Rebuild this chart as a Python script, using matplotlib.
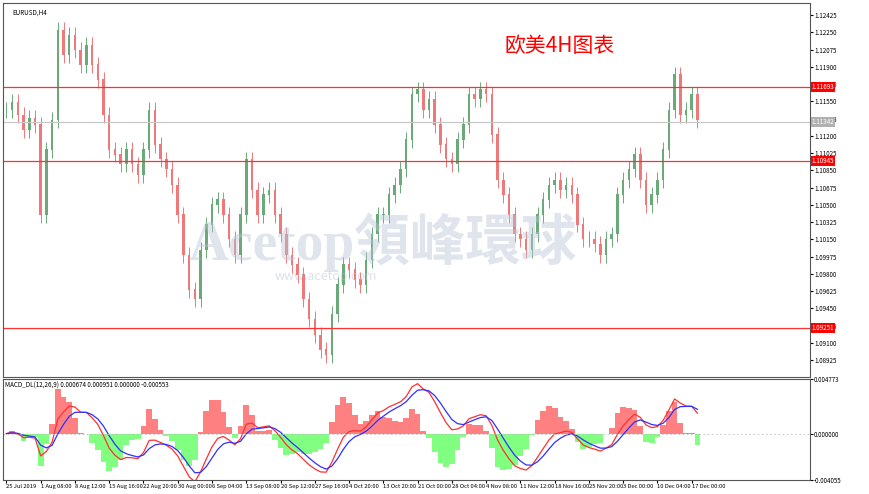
import numpy as np
import pandas as pd
import matplotlib
matplotlib.use("Agg")
import matplotlib.pyplot as plt

plt.rcParams['font.family'] = ['Noto Sans CJK SC', 'DejaVu Sans']

closes = [1.1146,1.1154,1.1141,1.1126,1.1138,1.1131,1.1040,1.1106,1.1136,1.1227,1.1202,1.1222,1.1207,1.1192,1.1212,1.1192,1.1177,1.1141,1.1106,1.1101,1.1091,1.1106,1.1091,1.1080,1.1106,1.1146,1.1111,1.1096,1.1086,1.1070,1.1040,1.0999,1.0964,1.0954,1.1004,1.1030,1.1050,1.1055,1.1040,1.1015,1.0999,1.1040,1.1096,1.1065,1.1040,1.1060,1.1065,1.1040,1.1020,1.0999,1.0989,1.0979,1.0954,1.0934,1.0918,1.0903,1.0898,1.0939,1.0969,1.0989,1.0984,1.0974,1.0969,1.0994,1.1020,1.1040,1.1040,1.1060,1.1070,1.1086,1.1116,1.1162,1.1167,1.1146,1.1157,1.1131,1.1111,1.1096,1.1091,1.1116,1.1131,1.1162,1.1157,1.1167,1.1162,1.1121,1.1075,1.1060,1.1040,1.1020,1.1015,1.1004,1.1020,1.1040,1.1055,1.1070,1.1075,1.1065,1.1070,1.1060,1.1030,1.1015,1.1015,1.1010,1.0999,1.1015,1.1020,1.1060,1.1075,1.1086,1.1101,1.1075,1.1050,1.1060,1.1075,1.1106,1.1146,1.1182,1.1141,1.1146,1.1162,1.1136]
bar_step = 5
hlines = [1.11693, 1.10945, 1.09251]
current = 1.11342
price_ticks = [1.12425,1.12250,1.12075,1.11900,1.11725,1.11550,1.11375,1.11200,1.11025,1.10850,1.10675,1.10500,1.10325,1.10150,1.09975,1.09800,1.09625,1.09450,1.09275,1.09100,1.08925]
date_labels = ["25 Jul 2019","1 Aug 08:00","8 Aug 12:00","15 Aug 16:00","22 Aug 20:00","30 Aug 00:00","6 Sep 04:00","13 Sep 08:00","20 Sep 12:00","27 Sep 16:00","4 Oct 20:00","13 Oct 20:00","21 Oct 00:00","28 Oct 04:00","4 Nov 08:00","11 Nov 12:00","18 Nov 16:00","25 Nov 20:00","3 Dec 00:00","10 Dec 04:00","17 Dec 00:00"]

W, H = 870, 494
fig = plt.figure(figsize=(8.7, 4.94), dpi=100)
def rect(l, t, r, b):
    return [l / W, 1 - b / H, (r - l) / W, (b - t) / H]
ax = fig.add_axes(rect(3, 3, 810, 377))
ax2 = fig.add_axes(rect(3, 379, 810, 480))

c = np.array(closes)
o = np.concatenate([[c[0]], c[:-1]])
x = np.arange(len(c)) * bar_step
hi = np.maximum(o, c) + 0.0008
lo = np.minimum(o, c) - 0.0008
up = c >= o
green, red = '#6aaa78', '#f07878'
for xi, oi, ci, h, l, u in zip(x, o, c, hi, lo, up):
    col = green if u else red
    ax.vlines(xi, l, h, color=col, lw=0.7)
    ax.bar(xi, abs(ci - oi) + 0.00005, bottom=min(oi, ci), width=2.2, color=col, lw=0)

for hv in hlines:
    ax.axhline(hv, color='#ff3030', lw=0.9)
    ax.text(1.002, hv, f"{hv:.5f}", transform=ax.get_yaxis_transform(), color='white',
            fontsize=4.5, va='center', ha='left', zorder=5,
            bbox=dict(boxstyle='square,pad=0.15', fc='red', ec='none'))
ax.axhline(current, color='#c8c8c8', lw=0.9)
ax.text(1.002, current, f"{current:.5f}", transform=ax.get_yaxis_transform(), color='white',
        fontsize=4.5, va='center', ha='left', zorder=5,
        bbox=dict(boxstyle='square,pad=0.15', fc='#b0b0b0', ec='none'))

xmax = 807 / 1.147
ax.set_xlim(-3, xmax)
ax.set_ylim(1.08754, 1.12547)
ax.yaxis.tick_right()
ax.set_yticks(price_ticks)
ax.set_yticklabels([f"{t:.5f}" for t in price_ticks], fontsize=4.5)
ax.set_xticks([])
ax.tick_params(axis='y', length=2, pad=1)
ax.text(0.012, 0.985, "EURUSD,H4", transform=ax.transAxes, fontsize=4.5, va='top')
ax.text(0.69, 0.87, "欧美4H图表", transform=ax.transAxes, fontsize=15, color='red', ha='center')
ax.text(0.47, 0.36, "Acetop領峰環球", transform=ax.transAxes, fontsize=40, color='#b8c4d8',
        alpha=0.45, ha='center', va='center', fontweight='bold', family=['Liberation Serif', 'Noto Sans CJK SC'])
ax.text(0.40, 0.26, "www.acetop.com", transform=ax.transAxes, fontsize=9, color='#b8c4d8', alpha=0.5, ha='center')

s = pd.Series(c)
macd = s.ewm(span=12 / bar_step * 2, adjust=False).mean() - s.ewm(span=26 / bar_step * 2, adjust=False).mean()
sig = macd.ewm(span=9 / bar_step * 2, adjust=False).mean()
hist = (macd - sig) * 3
cols = ['#ff8080' if v >= 0 else '#80ff80' for v in hist]
ax2.bar(x, hist, width=bar_step, color=cols, lw=0)
ax2.plot(x, macd, color='#ff3030', lw=0.9)
ax2.plot(x, sig, color='#3030ff', lw=0.9)
ax2.axhline(0, color='#bbbbbb', lw=0.6, ls=(0, (2, 3)))
ax2.set_xlim(-3, xmax)
ax2.set_ylim(-0.004055, 0.004773)
ax2.yaxis.tick_right()
ax2.set_yticks([0.004773, 0.0, -0.004055])
ax2.set_yticklabels(["0.004773", "0.000000", "-0.004055"], fontsize=4.5)
ax2.set_xticks(np.arange(len(date_labels)) * 30)
ax2.set_xticklabels(date_labels, fontsize=4.2, ha='left')
ax2.tick_params(axis='both', length=2, pad=1)
ax2.text(0.003, 0.97, "MACD_DL(12,26,9) 0.000674 0.000951 0.000000 -0.000553", transform=ax2.transAxes, fontsize=4.5, va='top')
for a in (ax, ax2):
    for sp in a.spines.values():
        sp.set_color('#555555')
fig.savefig("out.png", dpi=100)
